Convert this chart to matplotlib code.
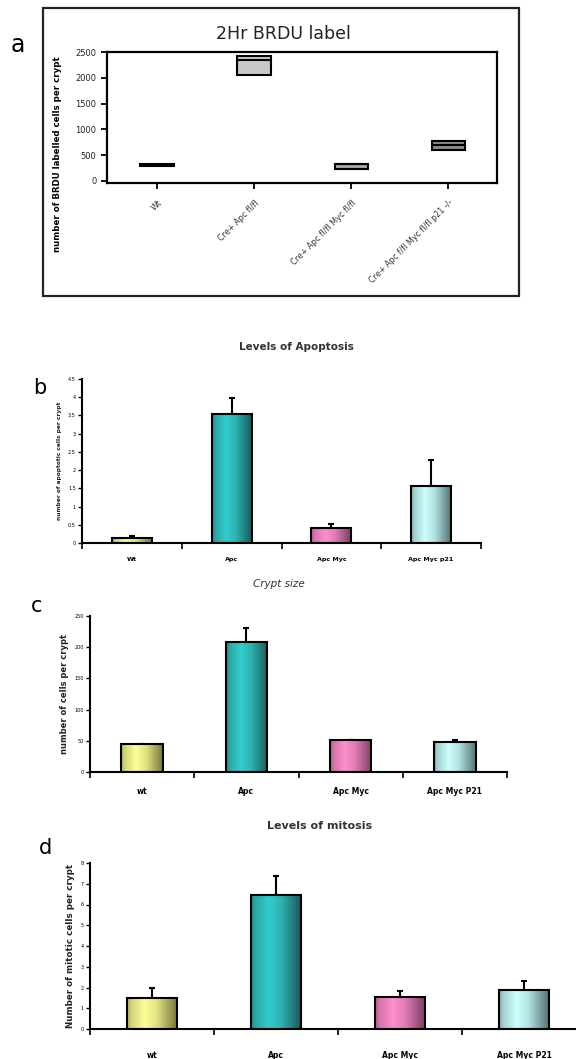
import matplotlib
matplotlib.use('Agg')
import matplotlib.pyplot as plt
import matplotlib.patches as mpatches
import numpy as np

# ---- data ----
a_groups = ['Wt', 'Cre+ Apc fl/fl', 'Cre+ Apc fl/fl Myc fl/fl', 'Cre+ Apc f/fl Myc fl/fl p21 -/-']
a_q1 = [280, 2045, 235, 595]
a_med = [300, 2350, 330, 690]
a_q3 = [320, 2420, 335, 775]
a_fill = ['#606060', '#c8c8c8', '#a8a8a8', '#8c8c8c']

b_groups = ['Wt', 'Apc', 'Apc Myc', 'Apc Myc p21']
b_vals = [0.15, 3.53, 0.42, 1.57]
b_err = [0.05, 0.44, 0.11, 0.72]

c_groups = ['wt', 'Apc', 'Apc Myc', 'Apc Myc P21']
c_vals = [45.5, 208, 51.4, 48.7]
c_err = [0.0, 23, 0.0, 3]

d_groups = ['wt', 'Apc', 'Apc Myc', 'Apc Myc P21']
d_vals = [1.47, 6.47, 1.56, 1.86]
d_err = [0.49, 0.89, 0.29, 0.47]

# dark edge colour, light centre colour for each bar
shades = [('#6a6a30', '#ffff99'), ('#164f4f', '#33cccc'),
          ('#6e3656', '#ff8fcf'), ('#456666', '#ccffff')]

W, H = 576, 1059
fig = plt.figure(figsize=(W / 100, H / 100), dpi=100)
plt.rcParams['font.family'] = ['DejaVu Sans']


def fpos(l, t, r, b):
    return [l / W, 1 - b / H, (r - l) / W, (b - t) / H]


def ftext(x, y, s, **kw):
    fig.text(x / W, 1 - y / H, s, ha='center', va='center', **kw)


def shade_bars(ax, bars):
    t = np.linspace(0, 1, 60)
    prof = np.interp(t, [0, 0.08, 0.35, 0.6, 1], [0.45, 0.7, 1.0, 0.8, 0.1])
    for bar, (dark, light) in zip(bars, shades):
        d = np.array(matplotlib.colors.to_rgb(dark))
        lt = np.array(matplotlib.colors.to_rgb(light))
        img = d[None, :] + prof[:, None] * (lt - d)[None, :]
        x0, y0 = bar.get_x(), bar.get_y()
        im = ax.imshow(img[None, :, :], extent=[x0, x0 + bar.get_width(), y0, y0 + bar.get_height()],
                       aspect='auto', zorder=2, interpolation='bilinear')
        im.set_clip_path(bar)


def bar_panel(rect, groups, vals, errs, ymax, step, ylab, ylab_size, xlab_size, xpad):
    ax = fig.add_axes(rect)
    x = np.arange(len(groups))
    ax.errorbar(x, vals, yerr=[np.zeros(len(errs)), errs], fmt='none', ecolor='black',
                elinewidth=1.5, capsize=2.5, capthick=1.5, zorder=1)
    bars = ax.bar(x, vals, width=0.4, facecolor='none', edgecolor='black', linewidth=1.5, zorder=3)
    shade_bars(ax, bars)
    ax.set_xlim(-0.5, len(groups) - 0.5)
    ax.set_ylim(0, ymax)
    ax.set_yticks(np.arange(0, ymax + step / 2, step))
    ax.set_yticklabels(['%g' % v for v in np.arange(0, ymax + step / 2, step)], fontsize=3.5)
    ax.set_xticks(x)
    ax.set_xticklabels(groups, fontsize=xlab_size, fontweight='bold')
    ax.set_xticks(np.arange(-0.5, len(groups)), minor=True)
    ax.tick_params(axis='x', which='major', length=0, pad=xpad)
    ax.tick_params(axis='x', which='minor', length=4, width=1.2, direction='out')
    ax.tick_params(axis='y', length=3, width=1, pad=1.5)
    for s in ['top', 'right']:
        ax.spines[s].set_visible(False)
    for s in ['left', 'bottom']:
        ax.spines[s].set_linewidth(1.5)
    ax.set_ylabel(ylab, fontsize=ylab_size, fontweight='bold', color='#222222', labelpad=4)
    return ax


# ---- panel a ----
axa = fig.add_axes(fpos(107, 52, 497, 183))
stats = []
for g, lo, m, hi in zip(a_groups, a_q1, a_med, a_q3):
    stats.append({'label': g, 'q1': lo, 'med': m, 'q3': hi, 'whislo': lo, 'whishi': hi})
bp = axa.bxp(stats, positions=range(len(stats)), widths=0.35, patch_artist=True,
             showcaps=False, showfliers=False,
             boxprops=dict(linewidth=1.5, edgecolor='black'),
             medianprops=dict(color='black', linewidth=1.5),
             whiskerprops=dict(linewidth=0))
for patch, col in zip(bp['boxes'], a_fill):
    patch.set_facecolor(col)
axa.set_xlim(-0.52, 3.5)
axa.set_ylim(-40, 2500)
axa.set_yticks([0, 500, 1000, 1500, 2000, 2500])
axa.set_yticklabels(['0', '500', '1000', '1500', '2000', '2500'], fontsize=6, color='#222222')
axa.set_xticks(range(len(a_groups)))
axa.set_xticklabels(a_groups, rotation=45, ha='right', va='top', rotation_mode='anchor',
                    fontsize=5.8, color='#333333')
axa.tick_params(axis='both', length=4, width=1.3, direction='out')
axa.tick_params(axis='x', pad=7)
for s in axa.spines.values():
    s.set_linewidth(1.6)
axa.set_ylabel('number of BRDU labelled cells per crypt', fontsize=6.2, fontweight='bold')
axa.yaxis.set_label_coords(-0.115, 0.22)

fig.add_artist(mpatches.Rectangle((43 / W, 1 - 296 / H), (519 - 43) / W, (296 - 8) / H,
                                  transform=fig.transFigure, fill=False, linewidth=1.6,
                                  edgecolor='#222222'))
ftext(283, 34, '2Hr BRDU label', fontsize=12.5, color='#222222')
ftext(18, 45, 'a', fontsize=17)

# ---- panel b ----
bar_panel(fpos(82, 379, 481, 543), b_groups, b_vals, b_err, 4.5, 0.5,
          'number of apoptotic cells per crypt', 4.2, 4.6, 10)
ftext(296, 347, 'Levels of Apoptosis', fontsize=7.5, fontweight='bold', color='#333333')
ftext(40, 388, 'b', fontsize=15)

# ---- panel c ----
bar_panel(fpos(90, 616, 507, 772), c_groups, c_vals, c_err, 250, 50,
          'number of cells per crypt', 6, 5.5, 11)
ftext(279, 584, 'Crypt size', fontsize=7.5, fontstyle='italic', color='#333333')
ftext(37, 606, 'c', fontsize=15)

# ---- panel d ----
bar_panel(fpos(90, 863, 586, 1029), d_groups, d_vals, d_err, 8, 1,
          'Number of mitotic cells per crypt', 6.3, 5.5, 16)
ftext(320, 826, 'Levels of mitosis', fontsize=8, fontweight='bold', color='#333333')
ftext(45, 848, 'd', fontsize=15)

fig.savefig('out.png', dpi=100, facecolor='white')
